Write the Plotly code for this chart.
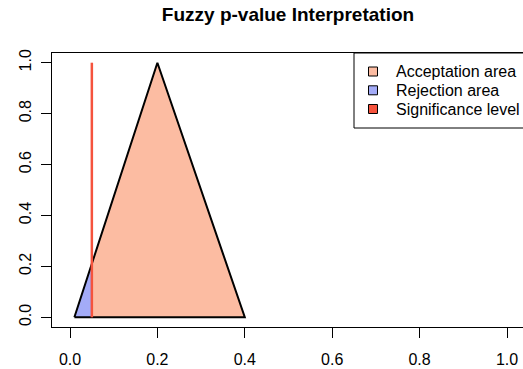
import plotly.graph_objects as go

# Data
tri_x = [0.01, 0.2, 0.4]          # fuzzy p-value triangle (left, peak, right)
tri_y = [0.0, 1.0, 0.0]
alpha = 0.05                       # significance level
legend_labels = ["Acceptation area", "Rejection area", "Significance level"]
legend_colors = ["#FCBCA2", "#A3ABF7", "#F5533D"]
x_ticks = [0.0, 0.2, 0.4, 0.6, 0.8, 1.0]
y_ticks = [0.0, 0.2, 0.4, 0.6, 0.8, 1.0]

# membership at alpha on left edge
y_alpha = (alpha - tri_x[0]) / (tri_x[1] - tri_x[0]) * tri_y[1]

W, H = 523, 369
L, R, T, B = 52, 0, 53, 42
pw, ph = W - L - R, H - T - B

fig = go.Figure()
# acceptation area
fig.add_trace(go.Scatter(
    x=[alpha, alpha, tri_x[1], tri_x[2], alpha],
    y=[0, y_alpha, tri_y[1], tri_y[2], 0],
    fill="toself", fillcolor=legend_colors[0], mode="none", hoverinfo="skip"))
# rejection area
fig.add_trace(go.Scatter(
    x=[tri_x[0], alpha, alpha, tri_x[0]],
    y=[tri_y[0], y_alpha, 0, tri_y[0]],
    fill="toself", fillcolor=legend_colors[1], mode="none", hoverinfo="skip"))
# outline
fig.add_trace(go.Scatter(
    x=tri_x + [tri_x[0]], y=tri_y + [tri_y[0]],
    mode="lines", line=dict(color="black", width=2), hoverinfo="skip"))
# significance line
fig.add_trace(go.Scatter(
    x=[alpha, alpha], y=[0, 1], mode="lines",
    line=dict(color=legend_colors[2], width=2.5), hoverinfo="skip"))

font = "Liberation Sans, Arial, sans-serif"

def px_to_paper_x(px):
    return (px - L) / pw

def py_to_paper_y(py):
    return (H - B - py) / ph

shapes = [dict(type="rect", xref="paper", yref="paper",
               x0=px_to_paper_x(354), x1=px_to_paper_x(530),
               y0=py_to_paper_y(128), y1=1.0,
               line=dict(color="black", width=1), fillcolor="white", layer="above")]
annotations = []
row_y = [71.5, 90.3, 109]
for lab, col, ry in zip(legend_labels, legend_colors, row_y):
    shapes.append(dict(type="rect", xref="paper", yref="paper",
                       x0=px_to_paper_x(368.5), x1=px_to_paper_x(377.5),
                       y0=py_to_paper_y(ry + 4.5), y1=py_to_paper_y(ry - 4.5),
                       line=dict(color="black", width=1), fillcolor=col, layer="above"))
    annotations.append(dict(text=lab, xref="paper", yref="paper",
                            x=px_to_paper_x(394), y=py_to_paper_y(ry),
                            xanchor="left", yanchor="middle", showarrow=False,
                            font=dict(family=font, size=16, color="black")))

fig.update_layout(
    width=W, height=H,
    margin=dict(l=L, r=R, t=T, b=B),
    paper_bgcolor="white", plot_bgcolor="white",
    showlegend=False,
    title=dict(text="<b>Fuzzy p-value Interpretation</b>", x=(L + (L + 472)) / 2 / W,
               xanchor="center", y=1 - 14 / H, yanchor="middle",
               font=dict(family=font, size=19, color="black")),
    shapes=shapes, annotations=annotations,
    font=dict(family=font, size=16, color="black"),
)
fig.update_xaxes(range=[-18 / 437, (W - 70) / 437], tickvals=x_ticks,
                 ticktext=[f"{v:.1f}" for v in x_ticks],
                 showgrid=False, zeroline=False, showline=True, linecolor="black",
                 linewidth=1, mirror=True, ticks="outside", ticklen=10,
                 tickcolor="black", tickfont=dict(family=font, size=16),
                 ticklabelstandoff=8)
fig.update_yaxes(range=[-(327 - 317.3) / 254.6, 1 + (62.7 - 53) / 254.6],
                 tickvals=y_ticks, ticktext=[f"{v:.1f}" for v in y_ticks],
                 showgrid=False, zeroline=False, showline=True, linecolor="black",
                 linewidth=1, ticks="outside", ticklen=10, tickcolor="black",
                 tickangle=-90, tickfont=dict(family=font, size=16),
                 ticklabelstandoff=4)

fig.write_html("out.html")
